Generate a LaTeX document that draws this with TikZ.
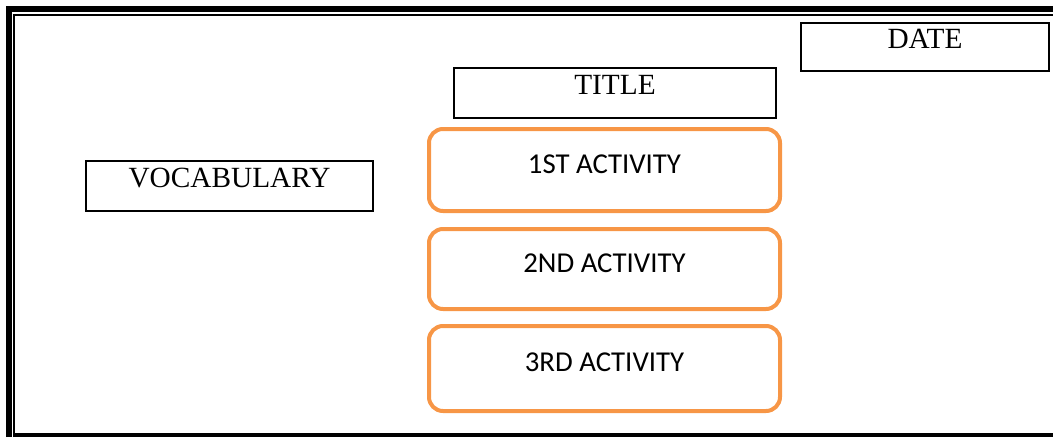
\documentclass[tikz,border=0pt]{standalone}
\usepackage{fontspec}
\setmainfont{Liberation Serif}
\newfontfamily\calfont{Carlito}
\definecolor{accorange}{HTML}{F79646}
\begin{document}
\begin{tikzpicture}[x=1pt,y=-1pt,
  plainbox/.style={draw=black,line width=2.5pt,rectangle,inner sep=0pt,
    font=\fontsize{29.3}{29}\selectfont,text height=19pt,text depth=16pt},
  actbox/.style={draw=accorange,line width=4pt,rectangle,rounded corners=14pt,
    inner sep=0pt,minimum width=351pt,
    font=\calfont\fontsize{28.8}{28}\selectfont,text height=18.5pt,text depth=12.5pt}]
\useasboundingbox (0,0) rectangle (1053,437);
% page frame
\draw[line width=6pt] (9,437) -- (9,9) -- (1053,9);
\draw[line width=2pt] (14,437) -- (14,15) -- (1053,15);
\draw[line width=4pt] (13,435) -- (1053,435);
% boxes
\node[plainbox,minimum width=248pt,minimum height=48pt] (date) at (925,47) {DATE};
\node[plainbox,minimum width=322pt,minimum height=50pt] (title) at (615,93) {TITLE};
\node[plainbox,minimum width=287pt,minimum height=50pt] (vocab) at (229.5,186) {VOCABULARY};
\node[actbox,minimum height=82pt] (act1) at (604.5,170) {1ST ACTIVITY};
\node[actbox,minimum height=80pt] (act2) at (604.5,269) {2ND ACTIVITY};
\node[actbox,minimum height=85pt] (act3) at (604.5,368.5) {3RD ACTIVITY};
\end{tikzpicture}
\end{document}
